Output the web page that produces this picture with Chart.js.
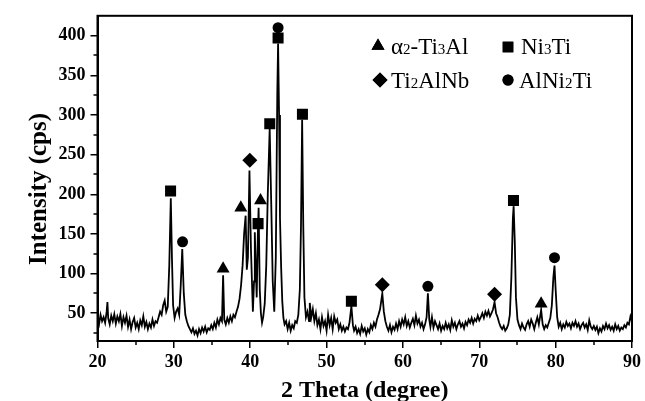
<!DOCTYPE html>
<html lang="en">
<head>
    <meta charset="UTF-8">
    <script src="https://cdn.jsdelivr.net/npm/chart.js@4.4.1/dist/chart.umd.min.js"></script>
    <title>XRD</title>
    <style>
        body { margin: 0; background: #fff; }
    </style>
</head>
<body>
    <canvas id="xrdChart" width="645" height="401"></canvas>
    <script>
        // measured pattern: [2theta, intensity]
        var xrdScan = [
            [20.0,42],[20.2,36],[20.4,48],[20.6,40],[20.8,45],[21.0,38],[21.2,52],[21.3,64],[21.4,44],[21.6,36],[21.8,47],[22.0,40],
            [22.2,49],[22.4,37],[22.6,46],[22.8,40],[23.0,49],[23.2,34],[23.4,45],[23.6,38],[23.8,47],[24.0,33],
            [24.2,42],[24.4,30],[24.6,39],[24.8,44],[25.0,32],[25.2,38],[25.4,30],[25.6,41],[25.8,35],[26.0,46],
            [26.2,33],[26.4,39],[26.6,30],[26.8,37],[27.0,32],[27.2,42],[27.4,34],[27.6,40],[27.8,38],[28.0,45],
            [28.2,52],[28.4,48],[28.6,60],[28.8,66],[29.0,52],[29.2,58],[29.4,110],[29.6,195],[29.75,120],[29.9,60],[30.1,44],[30.3,52],
            [30.5,56],[30.7,48],[30.9,85],[31.1,131],[31.3,75],[31.5,48],[31.7,40],[31.9,34],[32.1,30],[32.3,26],
            [32.5,31],[32.7,24],[32.9,28],[33.1,22],[33.3,30],[33.5,25],[33.7,32],[33.9,27],[34.1,33],[34.3,26],
            [34.5,31],[34.7,29],[34.9,35],[35.1,30],[35.3,38],[35.5,32],[35.7,42],[35.9,36],[36.1,44],[36.3,40],
            [36.45,98],[36.6,42],[36.8,36],[37.0,44],[37.2,38],[37.4,46],[37.6,40],[37.8,48],[38.0,45],[38.2,52],
            [38.4,58],[38.6,68],[38.8,85],[39.0,110],[39.2,150],[39.4,173],[39.55,105],[39.7,120],[39.9,230],[40.1,130],
            [40.35,52],[40.5,90],[40.6,152],[40.75,100],[40.85,70],[41.0,150],[41.1,183],[41.25,80],[41.4,50],[41.55,38],
            [41.7,45],[41.9,62],[42.1,110],[42.3,200],[42.55,283],[42.75,190],[42.95,90],[43.15,52],[43.35,120],[43.55,330],
            [43.65,390],[43.78,300],[43.9,170],[44.05,108],[44.2,65],[44.35,44],[44.5,36],[44.7,40],[44.9,30],[45.1,38],
            [45.3,28],[45.5,35],[45.7,31],[45.9,40],[46.1,38],[46.3,48],[46.5,80],[46.65,160],[46.8,294],[46.95,160],
            [47.1,70],[47.3,45],[47.5,52],[47.7,40],[47.8,63],[48.0,45],[48.2,55],[48.4,40],[48.6,50],[48.8,35],
            [49.0,42],[49.2,30],[49.4,45],[49.6,34],[49.8,40],[50.0,28],[50.2,48],[50.4,35],[50.6,44],[50.8,30],
            [51.0,46],[51.2,38],[51.4,42],[51.6,30],[51.8,36],[52.0,28],[52.2,33],[52.4,27],[52.6,32],[52.8,30],
            [53.0,38],[53.25,59],[53.45,35],[53.6,28],[53.8,33],[54.0,25],[54.2,30],[54.4,24],[54.6,34],[54.8,27],
            [55.0,31],[55.2,23],[55.4,30],[55.6,26],[55.8,35],[56.0,30],[56.2,38],[56.4,33],[56.6,42],[56.8,48],
            [57.0,55],[57.3,75],[57.5,52],[57.7,40],[57.9,33],[58.1,28],[58.3,35],[58.5,26],[58.7,33],[58.9,29],
            [59.1,37],[59.3,30],[59.5,40],[59.7,33],[59.9,42],[60.1,36],[60.3,45],[60.5,34],[60.7,40],[60.9,32],
            [61.1,38],[61.3,43],[61.5,35],[61.7,47],[61.9,37],[62.1,42],[62.3,33],[62.5,38],[62.7,30],[62.9,36],
            [63.1,45],[63.27,75],[63.45,42],[63.6,33],[63.8,45],[64.0,32],[64.2,40],[64.4,35],[64.6,30],[64.8,37],
            [65.0,28],[65.2,34],[65.4,30],[65.6,38],[65.8,31],[66.0,36],[66.2,29],[66.4,41],[66.6,33],[66.8,38],
            [67.0,30],[67.2,36],[67.4,40],[67.6,33],[67.8,37],[68.0,31],[68.2,39],[68.4,35],[68.6,42],[68.8,38],
            [69.0,44],[69.2,37],[69.4,43],[69.6,40],[69.8,47],[70.0,41],[70.2,45],[70.4,50],[70.6,44],[70.8,52],
            [71.0,47],[71.2,53],[71.4,46],[71.6,50],[71.8,55],[72.0,64],[72.2,50],[72.4,45],[72.6,38],[72.8,33],
            [73.0,30],[73.2,34],[73.4,28],[73.6,31],[73.8,36],[74.0,48],[74.2,95],[74.4,170],[74.5,185],[74.65,140],
            [74.8,70],[75.0,42],[75.2,35],[75.4,30],[75.6,37],[75.8,32],[76.0,29],[76.2,36],[76.4,40],[76.6,33],
            [76.8,42],[77.0,37],[77.2,30],[77.4,38],[77.6,45],[77.8,36],[78.1,54],[78.3,36],[78.5,30],[78.7,35],
            [78.9,32],[79.1,38],[79.3,44],[79.5,60],[79.7,95],[79.85,110],[80.0,80],[80.2,45],[80.4,33],[80.6,38],
            [80.8,30],[81.0,36],[81.2,32],[81.4,39],[81.6,34],[81.8,37],[82.0,31],[82.2,38],[82.4,34],[82.6,40],
            [82.8,33],[83.0,37],[83.2,30],[83.4,35],[83.6,38],[83.8,32],[84.0,36],[84.2,29],[84.4,41],[84.6,33],
            [84.8,30],[85.0,34],[85.2,29],[85.4,33],[85.6,25],[85.8,31],[86.0,27],[86.2,34],[86.4,30],[86.6,37],
            [86.8,31],[87.0,35],[87.2,29],[87.4,33],[87.6,28],[87.8,36],[88.0,30],[88.2,34],[88.4,28],[88.6,32],
            [88.8,30],[89.0,35],[89.2,32],[89.4,38],[89.6,36],[89.8,46],[90.0,40]
        ];

        // phase markers above the peaks
        var ti3alMarks = [[36.45,106],[38.77,183],[41.35,192],[78.1,62]];
        var ni3tiMarks = [[29.57,204],[41.03,163],[42.56,289],[43.65,397],[46.84,301],[53.25,65],[74.48,192]];
        var ti2alnbMarks = [[39.95,243],[57.3,86],[72.0,74]];
        var alni2tiMarks = [[31.14,140],[43.65,410],[63.27,84],[79.85,120]];

        var xTicks = [20, 30, 40, 50, 60, 70, 80, 90];
        var xMinorTicks = [25, 35, 45, 55, 65, 75, 85];
        var yTicks = [50, 100, 150, 200, 250, 300, 350, 400];
        var yMinorTicks = [25, 75, 125, 175, 225, 275, 325, 375];

        var serif = "'Liberation Serif', 'Times New Roman', serif";

        function toXY(list) {
            return list.map(function (p) { return { x: p[0], y: p[1] }; });
        }

        function markSet(label, list, style, r) {
            return {
                label: label,
                data: toXY(list),
                pointStyle: style,
                pointRadius: r,
                pointHoverRadius: r,
                backgroundColor: '#000',
                borderColor: '#000',
                borderWidth: 0,
                showLine: false
            };
        }

        // box around the plot, minor ticks, y title
        var framePlugin = {
            id: 'frame',
            afterDraw: function (chart) {
                var ctx = chart.ctx, a = chart.chartArea;
                var xs = chart.scales.x, ys = chart.scales.y;
                ctx.save();
                ctx.strokeStyle = '#000';
                ctx.lineWidth = 2;
                ctx.strokeRect(a.left, a.top, a.right - a.left, a.bottom - a.top);
                ctx.lineWidth = 1.5;
                ctx.beginPath();
                xMinorTicks.forEach(function (v) {
                    var px = Math.round(xs.getPixelForValue(v));
                    ctx.moveTo(px, a.bottom);
                    ctx.lineTo(px, a.bottom + 4);
                });
                yMinorTicks.forEach(function (v) {
                    var py = Math.round(ys.getPixelForValue(v));
                    ctx.moveTo(a.left, py);
                    ctx.lineTo(a.left - 4, py);
                });
                ctx.stroke();

                ctx.translate(40, 189);
                ctx.rotate(-Math.PI / 2);
                ctx.fillStyle = '#000';
                ctx.font = 'bold 25px ' + serif;
                ctx.textAlign = 'center';
                ctx.textBaseline = 'middle';
                ctx.fillText('Intensity (cps)', 0, 0);
                ctx.restore();
            }
        };

        // legend with subscripts, "_" marks a subscript digit
        var legendItems = [
            { style: 'triangle', r: 7.5, mx: 378, my: 46, tx: 391, ty: 54, text: 'α_2-Ti_3Al' },
            { style: 'rect', r: 7.5, mx: 508, my: 47, tx: 521, ty: 54, text: 'Ni_3Ti' },
            { style: 'rectRot', r: 7.5, mx: 380, my: 80, tx: 391, ty: 88, text: 'Ti_2AlNb' },
            { style: 'circle', r: 5.5, mx: 508, my: 80, tx: 519, ty: 88, text: 'AlNi_2Ti' }
        ];

        var legendPlugin = {
            id: 'phaseLegend',
            afterDraw: function (chart) {
                var ctx = chart.ctx;
                ctx.save();
                ctx.fillStyle = '#000';
                ctx.strokeStyle = '#000';
                ctx.textBaseline = 'alphabetic';
                ctx.textAlign = 'left';
                legendItems.forEach(function (it) {
                    Chart.helpers.drawPoint(ctx, { pointStyle: it.style, radius: it.r, borderWidth: 0, rotation: 0 }, it.mx, it.my);
                    ctx.fill();
                    var x = it.tx;
                    var parts = it.text.split('_');
                    parts.forEach(function (part, i) {
                        var s = part;
                        if (i > 0) {
                            ctx.font = '15px ' + serif;
                            ctx.fillText(s[0], x, it.ty);
                            x += ctx.measureText(s[0]).width;
                            s = s.slice(1);
                        }
                        ctx.font = '23px ' + serif;
                        ctx.fillText(s, x, it.ty);
                        x += ctx.measureText(s).width;
                    });
                });
                ctx.restore();
            }
        };

        new Chart(document.getElementById('xrdChart'), {
            type: 'scatter',
            data: {
                datasets: [
                    {
                        label: 'XRD',
                        data: toXY(xrdScan),
                        showLine: true,
                        borderColor: '#000',
                        borderWidth: 1.8,
                        pointRadius: 0,
                        tension: 0
                    },
                    markSet('α2-Ti3Al', ti3alMarks, 'triangle', 7.5),
                    markSet('Ni3Ti', ni3tiMarks, 'rect', 7.8),
                    markSet('Ti2AlNb', ti2alnbMarks, 'rectRot', 7.5),
                    markSet('AlNi2Ti', alni2tiMarks, 'circle', 5.5)
                ]
            },
            options: {
                responsive: false,
                animation: false,
                layout: { padding: { top: 13, right: 12, left: 0, bottom: 0 } },
                plugins: {
                    legend: { display: false },
                    tooltip: { enabled: false }
                },
                scales: {
                    x: {
                        type: 'linear',
                        min: 20,
                        max: 90,
                        afterBuildTicks: function (s) { s.ticks = xTicks.map(function (v) { return { value: v }; }); },
                        afterFit: function (s) { s.height = 60; },
                        grid: { drawOnChartArea: false, color: '#000', lineWidth: 1.5, tickLength: 7 },
                        border: { color: '#000', width: 2 },
                        ticks: { color: '#000', padding: 4, maxRotation: 0, font: { family: serif, size: 18, weight: 'bold' } },
                        title: {
                            display: true,
                            text: '2 Theta (degree)',
                            color: '#000',
                            padding: { top: 0, bottom: -2 },
                            font: { family: serif, size: 24, weight: 'bold', lineHeight: 1 }
                        }
                    },
                    y: {
                        type: 'linear',
                        min: 15,
                        max: 425,
                        afterBuildTicks: function (s) { s.ticks = yTicks.map(function (v) { return { value: v }; }); },
                        afterFit: function (s) { s.width = 97.5; },
                        grid: { drawOnChartArea: false, color: '#000', lineWidth: 1.5, tickLength: 7 },
                        border: { color: '#000', width: 2 },
                        ticks: { color: '#000', padding: 5, font: { family: serif, size: 18, weight: 'bold' } }
                    }
                }
            },
            plugins: [framePlugin, legendPlugin]
        });
    </script>
</body>
</html>
